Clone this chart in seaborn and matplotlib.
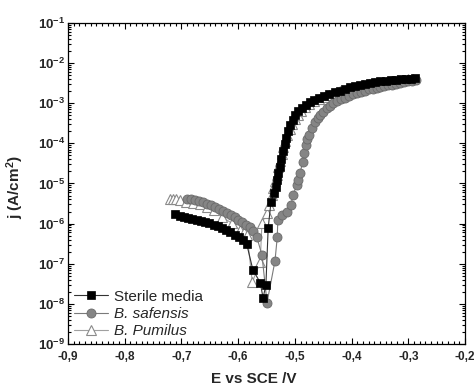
import numpy as np
import pandas as pd
import matplotlib
matplotlib.use("Agg")
import matplotlib.pyplot as plt
import seaborn as sns
from matplotlib.ticker import MultipleLocator, FuncFormatter, LogLocator, NullFormatter

# ---- data: potential (V vs SCE) and log10 of current density (A/cm2) ----
sterile_E = [-0.711, -0.703, -0.696, -0.688, -0.681, -0.673, -0.666, -0.658, -0.651, -0.643,
             -0.636, -0.628, -0.621, -0.614, -0.606, -0.599, -0.592, -0.585,
             -0.574, -0.561, -0.556, -0.551, -0.547,
             -0.542, -0.537, -0.534, -0.531, -0.529, -0.527, -0.524, -0.521, -0.518, -0.515,
             -0.512, -0.508, -0.504, -0.499, -0.494, -0.488, -0.481, -0.474, -0.466, -0.457,
             -0.448, -0.439, -0.430, -0.421, -0.412, -0.403, -0.394, -0.385, -0.376, -0.367,
             -0.358, -0.349, -0.340, -0.331, -0.322, -0.313, -0.304, -0.295, -0.288]
sterile_logj = [-5.77, -5.81, -5.83, -5.86, -5.88, -5.91, -5.94, -5.96, -5.99, -6.03,
                -6.07, -6.12, -6.17, -6.22, -6.28, -6.34, -6.41, -6.50,
                -7.15, -7.47, -7.85, -7.53, -6.11,
                -5.46, -5.24, -5.08, -4.92, -4.75, -4.58, -4.40, -4.20, -4.02, -3.86,
                -3.70, -3.55, -3.42, -3.30, -3.20, -3.12, -3.04, -2.98, -2.92, -2.87,
                -2.82, -2.77, -2.73, -2.69, -2.65, -2.61, -2.57, -2.54, -2.52, -2.50,
                -2.48, -2.46, -2.45, -2.43, -2.42, -2.41, -2.40, -2.39, -2.38]

safensis_E = [-0.690, -0.683, -0.676, -0.669, -0.662, -0.655, -0.648, -0.641, -0.634, -0.627,
              -0.620, -0.613, -0.606, -0.600, -0.593, -0.586, -0.579, -0.573, -0.567,
              -0.558, -0.549, -0.535, -0.531,
              -0.530, -0.523, -0.514, -0.507, -0.503, -0.497, -0.494, -0.491, -0.486, -0.484,
              -0.481, -0.478, -0.475, -0.470, -0.465, -0.460, -0.456, -0.450, -0.444, -0.438,
              -0.433, -0.426, -0.419, -0.412, -0.405, -0.398, -0.391, -0.384, -0.377, -0.370,
              -0.363, -0.356, -0.349, -0.342, -0.335, -0.328, -0.321, -0.314, -0.307, -0.300,
              -0.293, -0.286]
safensis_logj = [-5.40, -5.40, -5.42, -5.44, -5.47, -5.50, -5.54, -5.59, -5.63, -5.68,
                 -5.73, -5.78, -5.84, -5.90, -5.97, -6.03, -6.09, -6.18, -6.34,
                 -6.78, -7.97, -6.93, -6.34,
                 -5.91, -5.79, -5.72, -5.54, -5.29, -5.05, -4.92, -4.74, -4.47, -4.25,
                 -4.04, -3.90, -3.79, -3.62, -3.47, -3.38, -3.30, -3.21, -3.13, -3.06,
                 -3.00, -2.95, -2.90, -2.86, -2.82, -2.78, -2.75, -2.72, -2.69, -2.66,
                 -2.64, -2.62, -2.60, -2.58, -2.56, -2.54, -2.52, -2.50, -2.48, -2.46,
                 -2.45, -2.43]

pumilus_E = [-0.720, -0.715, -0.710, -0.703, -0.691, -0.679, -0.667, -0.655, -0.643, -0.628,
             -0.611, -0.597, -0.589, -0.584,
             -0.575, -0.561, -0.558, -0.549,
             -0.545, -0.541, -0.538, -0.535, -0.532, -0.529, -0.526, -0.523, -0.520, -0.517,
             -0.513, -0.509, -0.505, -0.500, -0.495, -0.489, -0.482, -0.475, -0.467, -0.458,
             -0.449, -0.440, -0.430, -0.420, -0.410, -0.400, -0.390, -0.380, -0.370, -0.360,
             -0.350, -0.340, -0.330, -0.320, -0.310, -0.300, -0.292]
pumilus_logj = [-5.39, -5.39, -5.40, -5.42, -5.45, -5.48, -5.52, -5.58, -5.66, -5.84,
                -5.99, -6.16, -6.22, -6.29,
                -7.46, -6.96, -5.98, -5.74,
                -5.54, -5.30, -5.12, -4.95, -4.78, -4.60, -4.43, -4.27, -4.10, -3.95,
                -3.80, -3.65, -3.52, -3.40, -3.29, -3.19, -3.10, -3.02, -2.95, -2.89,
                -2.84, -2.79, -2.75, -2.71, -2.67, -2.63, -2.59, -2.56, -2.53, -2.51,
                -2.49, -2.47, -2.45, -2.43, -2.42, -2.41, -2.40]

sns.set_theme(style="ticks")
plt.rcParams['font.family'] = ['Liberation Sans', 'DejaVu Sans']
plt.rcParams['mathtext.fontset'] = 'custom'
plt.rcParams['mathtext.rm'] = 'Liberation Sans'
plt.rcParams['mathtext.bf'] = 'Liberation Sans:bold'
plt.rcParams['mathtext.it'] = 'Liberation Sans:italic'

fig, ax = plt.subplots(figsize=(4.75, 3.87), dpi=100)
fig.subplots_adjust(left=0.143, right=0.979, top=0.941, bottom=0.111)

series = [
    ("B. Pumilus", pumilus_E, pumilus_logj,
     dict(marker='^', color='#a0a0a0', markerfacecolor='white', markeredgecolor='#8a8a8a',
          markersize=6.8, markeredgewidth=0.8, zorder=2)),
    ("B. safensis", safensis_E, safensis_logj,
     dict(marker='o', color='#7a7a7a', markerfacecolor='#858585', markeredgecolor='#6a6a6a',
          markersize=6.5, markeredgewidth=0.6, zorder=3)),
    ("Sterile media", sterile_E, sterile_logj,
     dict(marker='s', color='#333333', markerfacecolor='black', markeredgecolor='black',
          markersize=5.3, markeredgewidth=0.5, zorder=4)),
]

handles = {}
for name, E, logj, style in series:
    df = pd.DataFrame({"E": E, "j": 10.0 ** np.array(logj)})
    sns.lineplot(data=df, x="E", y="j", sort=False, estimator=None, ax=ax,
                 linewidth=0.8, **style)
    handles[name] = ax.lines[-1]

ax.set_yscale('log')
ax.set_xlim(-0.9, -0.2)
ax.set_ylim(1e-9, 1e-1)

ax.xaxis.set_major_locator(MultipleLocator(0.1))
ax.xaxis.set_minor_locator(MultipleLocator(0.01))
ax.xaxis.set_major_formatter(FuncFormatter(lambda v, p: f"{v:.1f}".replace('.', ',')))
ax.yaxis.set_major_locator(LogLocator(base=10, numticks=20))
ax.yaxis.set_minor_locator(LogLocator(base=10, subs=np.arange(2, 10), numticks=20))
ax.yaxis.set_minor_formatter(NullFormatter())
ax.yaxis.set_major_formatter(FuncFormatter(
    lambda v, p: r"$\mathbf{10^{%d}}$" % int(round(np.log10(v)))))

ax.tick_params(which='both', direction='in', top=True, right=True, width=0.8,
               color='black')
ax.tick_params(which='major', length=4.5)
ax.tick_params(axis='x', which='major', labelsize=8.5, pad=5)
ax.tick_params(axis='y', which='major', labelsize=9.5, pad=2)
ax.tick_params(which='minor', length=2.3)
for lab in ax.get_xticklabels():
    lab.set_fontweight('bold')
for sp in ax.spines.values():
    sp.set_linewidth(0.9)
    sp.set_color('black')

ax.set_xlabel("E vs SCE /V", fontsize=11, fontweight='bold')
ax.xaxis.set_label_coords(0.468, -0.088)
ax.set_ylabel(r"j (A/cm$^\mathbf{2}$)", fontsize=11, fontweight='bold')
ax.yaxis.set_label_coords(-0.105, 0.49)

leg = ax.legend([handles["Sterile media"], handles["B. safensis"], handles["B. Pumilus"]],
                ["Sterile media", "B. safensis", "B. Pumilus"],
                loc='lower left', bbox_to_anchor=(0.0, 0.0), frameon=False,
                fontsize=11, handlelength=2.2, handletextpad=0.4, labelspacing=0.2,
                borderaxespad=0.1, borderpad=0.3)
for t in leg.get_texts()[1:]:
    t.set_fontstyle('italic')

fig.savefig("out.png", dpi=100)
